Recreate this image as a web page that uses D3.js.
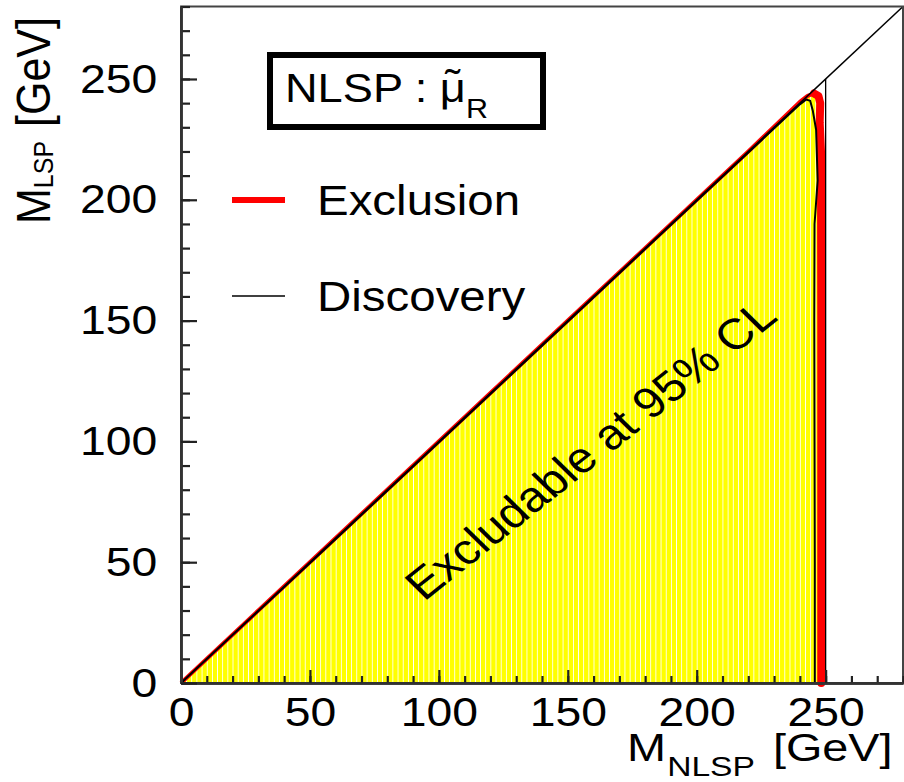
<!DOCTYPE html>
<html lang="en">
<head>
<meta charset="UTF-8">
<title>NLSP smuon_R exclusion</title>
<style>
  body { margin: 0; background: #fff; }
  svg { display: block; font-family: "Liberation Sans", Arial, sans-serif; }
</style>
</head>
<body>
<script src="https://d3js.org/d3.v7.min.js"></script>
<script>
    const width = 904
    const height = 782

    // axis ticks (GeV)
    const majorTicks = [0, 50, 100, 150, 200, 250]
    const minorStep = 10
    const axisMax = 280
    const binWidth = 2          // histogram bin width of the yellow fill
    const beamLimit = 250       // vertical kinematic line M_NLSP = 250

    // 95% CL exclusion contour (red)
    const exclX = [0, 60, 120, 180, 220, 240, 243, 245.5, 247.2, 247.9, 247.7, 248.2, 248.3, 248.3, 248.3]
    const exclY = [0, 60, 120, 180, 220, 240.5, 243, 244, 243, 240, 232, 220, 150, 60, 0]

    // discovery contour (black)
    const discX = [0, 60, 120, 180, 220, 240, 242.5, 244, 245, 246.3, 246.9, 245.7, 245.6, 245.7, 245.8, 245.8]
    const discY = [0, 59.6, 119.6, 179.6, 219.6, 239.5, 241.5, 241, 237, 229, 208, 190, 150, 100, 50, 0]

    const legendLabels = ['Exclusion', 'Discovery']
    const legendColors = ['#ff0000', '#000000']

    const sx = 1.13   // the picture is a bit wider than tall, text too

    const x = d3.scaleLinear().domain([0, axisMax]).range([181, 903])
    const y = d3.scaleLinear().domain([0, axisMax]).range([683, 6.5])

    const svg = d3.select('body').append('svg')
        .attr('width', width)
        .attr('height', height)

    const excl = exclX.map((v, i) => [v, exclY[i]])
    const disc = discX.map((v, i) => [v, discY[i]])
    const line = d3.line().x(d => x(d[0])).y(d => y(d[1]))

    drawFill()
    drawLines()
    drawAxes()
    drawLabels()

    function drawFill() {
        const w = x(binWidth) - x(0)
        const pat = svg.append('defs').append('pattern')
            .attr('id', 'bins')
            .attr('patternUnits', 'userSpaceOnUse')
            .attr('x', x(0))
            .attr('width', w)
            .attr('height', 10)
        pat.append('rect').attr('width', w).attr('height', 10).attr('fill', '#ffff00')
        pat.append('rect').attr('width', 1.1).attr('height', 10).attr('fill', '#fff')
            .attr('shape-rendering', 'crispEdges')

        svg.append('path')
            .attr('d', line(excl) + 'Z')
            .attr('fill', 'url(#bins)')
    }

    function drawLines() {
        // red exclusion, thicker on the vertical edge
        svg.append('path')
            .attr('d', line(excl))
            .attr('fill', 'none')
            .attr('stroke', '#ff0000')
            .attr('stroke-width', 4)
            .attr('stroke-linejoin', 'round')
        svg.append('path')
            .attr('d', line(excl.filter(d => d[0] > 245)))
            .attr('fill', 'none')
            .attr('stroke', '#ff0000')
            .attr('stroke-width', 8)
            .attr('stroke-linejoin', 'round')
            .attr('stroke-linecap', 'round')

        // kinematic limits
        svg.append('path')
            .attr('d', line([[0, 0], [axisMax, axisMax]]))
            .attr('stroke', '#000')
            .attr('stroke-width', 1.5)
        svg.append('path')
            .attr('d', line([[beamLimit, beamLimit], [beamLimit, 0]]))
            .attr('stroke', '#000')
            .attr('stroke-width', 1.3)

        svg.append('path')
            .attr('d', line(disc))
            .attr('fill', 'none')
            .attr('stroke', '#000')
            .attr('stroke-width', 2)
    }

    function drawAxes() {
        // frame
        svg.append('rect')
            .attr('x', x(0)).attr('y', y(axisMax))
            .attr('width', x(axisMax) - x(0))
            .attr('height', y(0) - y(axisMax))
            .attr('fill', 'none')
            .attr('stroke', '#444')
            .attr('stroke-width', 2)

        const minor = d3.range(0, axisMax + 1, minorStep)

        const gx = svg.append('g').attr('transform', `translate(0,${y(0)})`)
        gx.append('g').call(d3.axisBottom(x).tickValues(minor).tickSize(-7).tickSizeOuter(0).tickFormat(''))
        gx.append('g').call(d3.axisBottom(x).tickValues(majorTicks).tickSize(-13).tickSizeOuter(0).tickPadding(14))

        const gy = svg.append('g').attr('transform', `translate(${x(0)},0)`)
        gy.append('g').call(d3.axisLeft(y).tickValues(minor).tickSize(-9).tickSizeOuter(0).tickFormat(''))
        gy.append('g').call(d3.axisLeft(y).tickValues(majorTicks).tickSize(-16).tickSizeOuter(0).tickPadding(21))

        svg.selectAll('.domain').attr('stroke', '#333').attr('stroke-width', 2.5)
        svg.selectAll('.tick line').attr('stroke', '#222').attr('stroke-width', 2.2)
        svg.selectAll('.tick text')
            .attr('fill', '#000')
            .attr('font-size', 41)
            .attr('font-family', '"Liberation Sans", Arial, sans-serif')
            .attr('transform', `scale(${sx},1)`)
    }

    function drawLabels() {
        // title box
        svg.append('rect')
            .attr('x', 270).attr('y', 55)
            .attr('width', 273).attr('height', 72)
            .attr('fill', '#fff')
            .attr('stroke', '#000')
            .attr('stroke-width', 6)
        const tg = svg.append('g')
            .attr('transform', `translate(285,102) scale(${sx},1)`)
        const t = tg.append('text').attr('font-size', 40)
        t.append('tspan').text('NLSP : ')
        t.append('tspan').text('\u03bc')
        t.append('tspan').attr('dy', 16).attr('font-size', 27).text('R')
        // tilde placed over the mu
        const muBox = t.node().getExtentOfChar(7)
        tg.append('text')
            .attr('x', muBox.x + muBox.width / 2)
            .attr('y', -4)
            .attr('text-anchor', 'middle')
            .attr('font-size', 40)
            .text('\u02dc')

        // legend
        legendLabels.forEach((lab, i) => {
            const ly = 200 + i * 96
            svg.append('line')
                .attr('x1', 232).attr('x2', 285)
                .attr('y1', ly).attr('y2', ly)
                .attr('stroke', legendColors[i])
                .attr('stroke-width', i === 0 ? 6 : 1.5)
            svg.append('text')
                .attr('transform', `translate(317,${ly + 15}) scale(${sx},1)`)
                .attr('font-size', 42)
                .text(lab)
        })

        // region label
        svg.append('text')
            .attr('transform', `translate(424,602) scale(${sx},1) rotate(-42)`)
            .attr('font-size', 43)
            .text('Excludable at 95% CL')

        // axis titles
        const xt = svg.append('text')
            .attr('transform', `translate(627,761) scale(1.2,1)`)
            .attr('font-size', 39)
        xt.append('tspan').text('M')
        xt.append('tspan').attr('dy', 15).attr('dx', 1).attr('font-size', 28).text('NLSP')
        xt.append('tspan').attr('dy', -15).attr('dx', 15).text('[GeV]')

        const yt = svg.append('text')
            .attr('transform', `translate(50,224) scale(${sx},1) rotate(-90)`)
            .attr('font-size', 43)
        yt.append('tspan').text('M')
        yt.append('tspan').attr('dy', 3).attr('font-size', 25).text('LSP')
        yt.append('tspan').attr('dy', -3).attr('dx', 14).text('[GeV]')
    }
</script>
</body>
</html>
